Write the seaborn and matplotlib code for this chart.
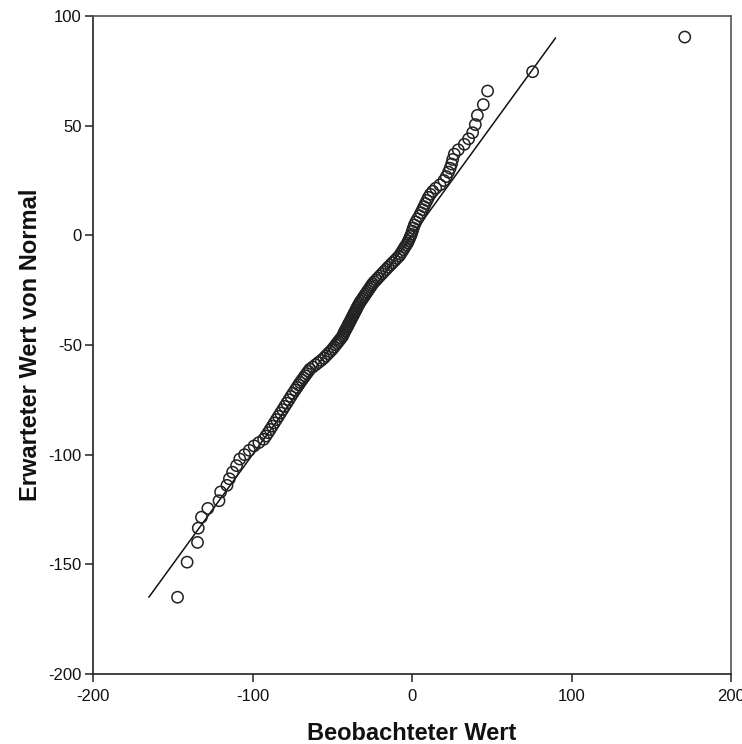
import matplotlib
matplotlib.use("Agg")
import matplotlib.pyplot as plt
import seaborn as sns
import pandas as pd

observed = [
    -147, -141, -134.5, -134, -132, -128, -121, -120, -116, -114.5, -112.5, -110, -108, -105, -102, -99, -96, -93,
    -91.6, -90.2, -88.9, -87.6, -86.3, -85, -83.7, -82.4, -81.1, -79.8, -78.5, -77.2, -75.9, -74.6, -73.2,
    -72.1, -71.1, -70.1, -69, -68, -67, -66, -65, -64, -62.2, -60.4, -58.7, -56.9, -55.3, -54, -52.7, -51.3, -50, -48.9, -47.8,
    -47, -46.1, -45.2, -44.4, -43.5, -43, -42.6, -42, -41.4, -40.8, -40.2, -39.7, -39.1, -38.5, -38, -37.4, -36.8, -36.3,
    -35.7, -35.1, -34.6, -34, -33.4, -32.8, -32.1, -31.3, -30.6, -29.8, -29.1, -28.3, -27.6, -26.8, -26.1, -25.3, -24.6, -23.6, -22.5,
    -21.4, -20.1, -18.8, -17.5, -16.2, -14.9, -13.5, -12.2, -10.8, -9.5, -8.1, -7.2, -6.3, -5.4, -4.6, -3.7, -2.8, -2.2, -1.6, -1.0,
    -0.4, 0.2, 0.8, 1.5, 2.4, 3.5, 4.7, 5.6, 6.6, 7.5, 8.4, 9.4, 10.3, 11.5, 13,
    14.9, 17.5, 20, 21.5, 22.9, 23.9, 24.8,
    25.5, 26.5, 29, 32.8, 35.5, 38, 39.7, 41, 44.7, 47.4, 75.6, 171,
]
expected = [
    -165, -149, -140, -133.5, -128.5, -124.5, -121, -117, -114, -111, -108, -105, -102, -100, -98, -96, -94.5, -93,
    -91.5, -90, -88.5, -87, -85.5, -84, -82.5, -81, -79.5, -78, -76.5, -75, -73.5, -72, -70.5,
    -69.3, -68.2, -67.1, -66, -65, -64, -63, -62, -61, -60, -59, -58, -57, -56, -55, -54, -53, -52, -51, -50,
    -49.2, -48.4, -47.6, -46.8, -46, -45.2, -44.4, -43.6, -42.8, -42, -41.2, -40.4, -39.6, -38.8, -38, -37.2, -36.4, -35.6,
    -34.8, -34, -33.2, -32.4, -31.6, -30.8, -30, -29.2, -28.4, -27.6, -26.8, -26, -25.2, -24.4, -23.6, -22.8, -22, -21.2, -20.4,
    -19.5, -18.5, -17.5, -16.5, -15.5, -14.5, -13.5, -12.5, -11.5, -10.5, -9.5, -8.5, -7.5, -6.5, -5.5, -4.5, -3.5, -2.5, -1.5, -0.5,
    0.5, 1.9, 3.3, 4.7, 6.1, 7.5, 8.9, 10.3, 11.7, 13.1, 14.5, 15.9, 17.3, 18.7, 20.1,
    21.5, 23, 25, 26.8, 28.8, 30.6, 32.5,
    34.6, 37, 39, 41.5, 44, 46.8, 50.5, 54.7, 59.6, 65.8, 74.6, 90.4,
]
line_x = [-165, 90]
line_y = [-165, 90]
x_ticks = [-200, -100, 0, 100, 200]
y_ticks = [-200, -150, -100, -50, 0, 50, 100]
x_label = "Beobachteter Wert"
y_label = "Erwarteter Wert von Normal"

sns.set_style("white")
plt.rcParams['font.family'] = ['Liberation Sans', 'DejaVu Sans']
plt.rcParams['axes.unicode_minus'] = False

fig = plt.figure(figsize=(7.42, 7.44), dpi=100)
ax = fig.add_axes([93/742, 1 - 674/744, (731 - 93)/742, (674 - 16)/744])

df = pd.DataFrame({"obs": observed, "exp": expected})
ldf = pd.DataFrame({"x": line_x, "y": line_y})

sns.lineplot(data=ldf, x="x", y="y", ax=ax, color="#111111", linewidth=1.1, zorder=2)
sns.scatterplot(data=df, x="obs", y="exp", ax=ax, s=66, marker="o",
                facecolor="none", edgecolor="#222222", linewidth=1.1, zorder=3)

ax.set_xlim(-200, 200)
ax.set_ylim(-200, 100)
ax.set_xticks(x_ticks)
ax.set_yticks(y_ticks)
ax.tick_params(axis="both", which="both", direction="out", length=6, width=1.2,
               color="#333333", labelsize=12, labelcolor="#111111", pad=2,
               bottom=True, left=True, top=False, right=False)
ax.tick_params(axis="x", pad=5)
ax.set_xlabel(x_label, fontsize=17, fontweight="bold", labelpad=13, color="#111111")
ax.set_ylabel(y_label, fontsize=17, fontweight="bold", labelpad=5, color="#111111")

for side in ["left", "bottom"]:
    ax.spines[side].set_color("#222222")
    ax.spines[side].set_linewidth(1.2)
for side in ["top", "right"]:
    ax.spines[side].set_color("#555555")
    ax.spines[side].set_linewidth(1.2)
ax.grid(False)

fig.savefig("out.png", dpi=100)
